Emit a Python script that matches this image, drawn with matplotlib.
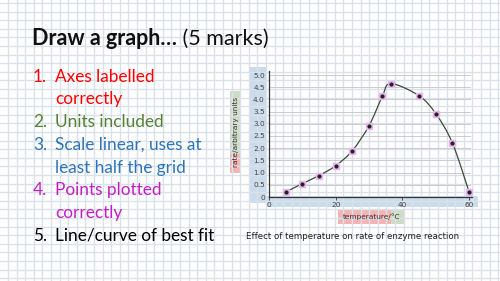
import numpy as np
import matplotlib.pyplot as plt
from matplotlib.patches import Rectangle, PathPatch
from matplotlib.path import Path

# datos
temperatura = [5, 10, 15, 20, 25, 30, 34, 36.5, 45, 50, 55, 60]
tasa = [0.2, 0.55, 0.88, 1.28, 1.9, 2.92, 4.12, 4.65, 4.15, 3.42, 2.22, 0.22]
yticks = [0, 0.5, 1.0, 1.5, 2.0, 2.5, 3.0, 3.5, 4.0, 4.5, 5.0]
ytick_labels = ["0", "0.5", "1.0", "1.5", "2.0", "2.5", "3.0", "3.5", "4.0", "4.5", "5.0"]
xticks = [0, 20, 40, 60]

titulo = "Draw a graph\u2026"
subtitulo = " (5 marks)"
items = [("1.", "Axes labelled", "#ff0000"),
         ("", "correctly", "#ff0000"),
         ("2.", "Units included", "#548235"),
         ("3.", "Scale linear, uses at", "#2e75b6"),
         ("", "least half the grid", "#2e75b6"),
         ("4.", "Points plotted", "#c21fc2"),
         ("", "correctly", "#c21fc2"),
         ("5.", "Line/curve of best fit", "#000000")]

W, H = 500, 281
fig = plt.figure(figsize=(W/100, H/100), dpi=100)

# fondo: papel cuadriculado + diapositiva blanca
bg = fig.add_axes([0, 0, 1, 1], zorder=0)
bg.set_xlim(0, W)
bg.set_ylim(H, 0)
bg.axis("off")
for gx in np.arange(8, W, 8.6):
    bg.axvline(gx, color="#dbe1eb", lw=1.0)
for gy in np.arange(3, H, 8.6):
    bg.axhline(gy, color="#dbe1eb", lw=1.0)
bg.add_patch(Rectangle((18, 22), 463, 239, facecolor="white", edgecolor="none"))

# texto de la diapositiva
font = "Lato"
t = bg.text(32, 45, titulo, fontsize=15.5, fontweight="bold", family=font, color="#111111")
fig.canvas.draw()
x_end = t.get_window_extent().x1
bg.text(x_end, H - 45, subtitulo, fontsize=15.5, family=font, color="#111111",
        transform=None)
for i, (num, txt, col) in enumerate(items):
    yb = 81.7 + i*22.75
    if num:
        bg.text(33, yb, num, fontsize=12.4, family=font, color=col)
    bg.text(55, yb, txt, fontsize=12.4, family=font, color=col)

# cajas de color detras de las etiquetas
bg.add_patch(Rectangle((249, 67), 17, 136, facecolor="#c9dcec", edgecolor="none"))
bg.add_patch(Rectangle((266, 196), 212, 11, facecolor="#c9dcec", edgecolor="none"))
bg.add_patch(Rectangle((230, 154), 11, 19, facecolor="#f6b3b3", edgecolor="none"))
bg.add_patch(Rectangle((230, 91), 11, 63, facecolor="#cfdcc4", edgecolor="none"))
bg.add_patch(Rectangle((338, 209), 53, 15, facecolor="#f6b3b3", edgecolor="none"))
bg.add_patch(Rectangle((391, 209), 14, 15, facecolor="#cfdcc4", edgecolor="none"))

bg.text(236, 132, "rate/arbitrary units", fontsize=5.3, rotation=90,
        ha="center", va="center", color="#333333")
bg.text(372, 217, "temperature/\u00b0C", fontsize=5.3, ha="center", va="center",
        color="#333333")
bg.text(353, 239, "Effect of temperature on rate of enzyme reaction", fontsize=6.2,
        ha="center", va="baseline", color="#222222")

# grafico principal
x0, x1 = 0, 61
y0, y1 = 0, 5.15
ppx = 200/60
ppy = 122/5
left, bottom = 269, 197
ax = fig.add_axes([left/W, (H - bottom)/H, (x1 - x0)*ppx/W, (y1 - y0)*ppy/H], zorder=1)
ax.patch.set_alpha(0)
ax.set_xlim(x0, x1)
ax.set_ylim(y0, y1)
for yv in yticks[1:]:
    ax.axhline(yv, xmax=(60.3 - x0)/(x1 - x0), color="#c4c4c4", lw=0.6, zorder=1)
ax.spines[["top", "right"]].set_visible(False)
for s in ["left", "bottom"]:
    ax.spines[s].set_color("#333333")
    ax.spines[s].set_linewidth(0.9)
ax.set_yticks(yticks)
ax.set_yticklabels(ytick_labels)
ax.set_xticks(xticks)
ax.tick_params(axis="y", length=0, pad=3, labelsize=5.3, labelcolor="#444444")
ax.tick_params(axis="x", length=2, width=0.6, pad=1.5, labelsize=5.3,
               labelcolor="#444444", color="#333333")

# curva de mejor ajuste (spline Catmull-Rom como curvas Bezier)
P = np.column_stack([temperatura, tasa])
verts = [P[0]]
codes = [Path.MOVETO]
n = len(P)
for i in range(n - 1):
    p_prev = P[max(i - 1, 0)]
    p_next2 = P[min(i + 2, n - 1)]
    c1 = P[i] + (P[i + 1] - p_prev)/6
    c2 = P[i + 1] - (p_next2 - P[i])/6
    verts += [c1, c2, P[i + 1]]
    codes += [Path.CURVE4]*3
ax.add_patch(PathPatch(Path(verts, codes), facecolor="none", edgecolor="#3a4a3a",
                       lw=0.9, zorder=3, clip_on=False))

ax.plot(temperatura, tasa, "s", color="#e8b6ec", markersize=5.0, zorder=4, clip_on=False)
ax.plot(temperatura, tasa, "o", color="#222222", markersize=2.0, zorder=5, clip_on=False)

plt.savefig("out.png", dpi=100)
